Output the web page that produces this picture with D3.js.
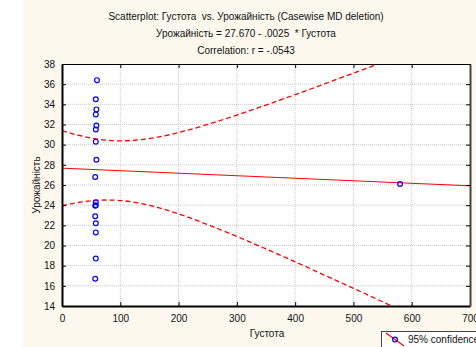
<!DOCTYPE html>
<html><head><meta charset="utf-8">
<script src="https://cdn.jsdelivr.net/npm/d3@7"></script>
<style>body{margin:0;background:#fff}svg{display:block}text{white-space:pre}</style>
</head><body>
<svg id="c" width="476" height="347"></svg>
<script>
const titleLines = ["Scatterplot: Густота  vs. Урожайність (Casewise MD deletion)",
  "Урожайність = 27.670 - .0025  * Густота",
  "Correlation: r = -.0543"];
const xTicks = [0,100,200,300,400,500,600,700];
const yTicks = [14,16,18,20,22,24,26,28,30,32,34,36,38];
const densityX = [60,58,59,58,59,58,58,59,57,58,58,57,58,58,58,57,57,580];
const yieldY   = [36.4,34.5,33.5,33.0,31.9,31.5,30.3,28.5,26.8,24.3,24.0,22.9,22.2,21.3,18.7,16.7,23.95,26.1];
const fitA = 27.670, fitB = -0.0025;
const bandX = [0,25,50,75,100,125,150,200,250,300,350,400,450,500,550,600,650];
const bandUpper = [31.38,30.98,30.66,30.45,30.38,30.44,30.60,31.20,32.01,32.94,33.93,34.96,36.02,37.09,38.17,39.26,40.3];
const bandLower = [23.96,24.24,24.43,24.51,24.46,24.28,23.99,23.14,22.07,20.90,19.66,18.38,17.07,15.75,14.42,13.08,11.7];

const svg = d3.select("#c");
svg.append("rect").attr("x",23).attr("y",0).attr("width",453).attr("height",347).attr("fill","#fcf8ee");
const L=62,R=470,T=64,B=306;
const x = d3.scaleLinear().domain([0,700]).range([L,R]);
const y = d3.scaleLinear().domain([14,38]).range([B,T]);
svg.append("rect").attr("x",L).attr("y",T).attr("width",R-L).attr("height",B-T).attr("fill","#fff");

const font = "'Liberation Sans', Arial, sans-serif";
titleLines.forEach((t,i)=>svg.append("text").attr("x",246).attr("y",20+i*17)
  .attr("text-anchor","middle").attr("font-family",font).attr("font-size",10).attr("fill","#111").text(t));

// grid
const g = svg.append("g");
g.selectAll(".gy").data(yTicks.slice(1,-1)).enter().append("line")
  .attr("x1",L).attr("x2",R).attr("y1",d=>y(d)).attr("y2",d=>y(d))
  .attr("stroke","#c8c8c8").attr("stroke-width",1).attr("stroke-dasharray","1,1");
g.selectAll(".gx").data(xTicks.slice(1,-1)).enter().append("line")
  .attr("y1",T).attr("y2",B).attr("x1",d=>x(d)).attr("x2",d=>x(d))
  .attr("stroke","#c8c8c8").attr("stroke-width",1).attr("stroke-dasharray","1,1");

// clip
svg.append("clipPath").attr("id","clip").append("rect").attr("x",L).attr("y",T).attr("width",R-L).attr("height",B-T);
const pg = svg.append("g").attr("clip-path","url(#clip)");
const band = d3.line().x((d,i)=>x(bandX[i])).y(d=>y(d)).curve(d3.curveMonotoneX);
pg.append("path").attr("d",band(bandUpper)).attr("fill","none").attr("stroke","#ff0000").attr("stroke-width",1.3).attr("stroke-dasharray","5,3");
pg.append("path").attr("d",band(bandLower)).attr("fill","none").attr("stroke","#ff0000").attr("stroke-width",1.3).attr("stroke-dasharray","5,3");
pg.append("line").attr("x1",x(0)).attr("x2",x(700)).attr("y1",y(fitA)).attr("y2",y(fitA+fitB*700))
  .attr("stroke","#ff0000").attr("stroke-width",1);
pg.selectAll("circle").data(densityX).enter().append("circle")
  .attr("cx",d=>x(d)).attr("cy",(d,i)=>y(yieldY[i])).attr("r",2.4)
  .attr("fill","none").attr("stroke","#0000ff").attr("stroke-width",1.2);

// axes
const ax = (sel)=>sel.selectAll("text").attr("font-family",font).attr("font-size",10).attr("fill","#111");
const xb = svg.append("g").attr("transform",`translate(0,${B})`).call(d3.axisBottom(x).tickValues(xTicks).tickSizeInner(-4).tickSizeOuter(0).tickPadding(9));
ax(xb); xb.select(".domain").attr("stroke","#000").attr("stroke-width",2);
const yl = svg.append("g").attr("transform",`translate(${L},0)`).call(d3.axisLeft(y).tickValues(yTicks).tickSizeInner(-4).tickSizeOuter(0).tickPadding(7));
ax(yl); yl.select(".domain").attr("stroke","#000").attr("stroke-width",2);
const xt = svg.append("g").attr("transform",`translate(0,${T})`).call(d3.axisTop(x).tickValues(xTicks).tickSizeInner(-4).tickSizeOuter(0).tickFormat(""));
xt.select(".domain").attr("stroke","#000").attr("stroke-width",1);
const yr = svg.append("g").attr("transform",`translate(${R},0)`).call(d3.axisRight(y).tickValues(yTicks).tickSizeInner(-4).tickSizeOuter(0).tickFormat(""));
yr.select(".domain").attr("stroke","#444").attr("stroke-width",2);

svg.append("text").attr("x",267).attr("y",337).attr("text-anchor","middle").attr("font-family",font).attr("font-size",10).attr("fill","#111").text("Густота");
svg.append("text").attr("transform","translate(40,185) rotate(-90)").attr("text-anchor","middle").attr("font-family",font).attr("font-size",10).attr("fill","#111").text("Урожайність");

// legend
const lg = svg.append("g");
lg.append("rect").attr("x",381.5).attr("y",331.5).attr("width",110).attr("height",20).attr("fill","#fff").attr("stroke","#444").attr("stroke-width",1);
lg.append("line").attr("x1",386).attr("y1",333).attr("x2",404).attr("y2",346).attr("stroke","#ff0000").attr("stroke-width",1.2);
lg.append("circle").attr("cx",395).attr("cy",339.5).attr("r",2.4).attr("fill","none").attr("stroke","#0000ff").attr("stroke-width",1.2);
lg.append("text").attr("x",408).attr("y",343).attr("font-family",font).attr("font-size",10).attr("fill","#111").text("95% confidence");
</script>
</body></html>
